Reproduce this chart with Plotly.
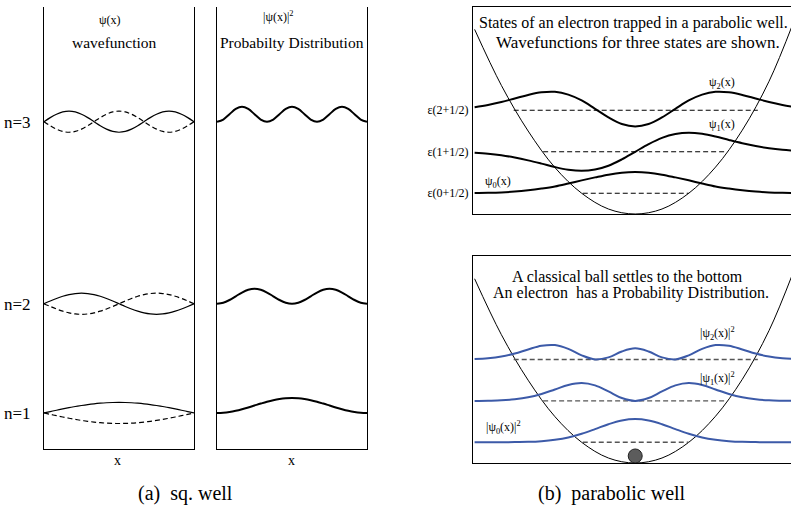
import plotly.graph_objects as go

W, H = 791, 507
FONT = "Liberation Serif, Times New Roman, serif"

# ---------------- data: square well ----------------
sq_x = [k / 24 for k in range(25)]
sq_levels = [1, 4, 9]            # energy ~ n^2
sq_labels = ["n=1", "n=2", "n=3"]
psi_sq_1 = [0, .131, .259, .383, .5, .609, .707, .793, .866, .924, .966, .991, 1,
            .991, .966, .924, .866, .793, .707, .609, .5, .383, .259, .131, 0]
psi_sq_2 = [0, .259, .5, .707, .866, .966, 1, .966, .866, .707, .5, .259, 0,
            -.259, -.5, -.707, -.866, -.966, -1, -.966, -.866, -.707, -.5, -.259, 0]
psi_sq_3 = [0, .383, .707, .924, 1, .924, .707, .383, 0,
            -.383, -.707, -.924, -1, -.924, -.707, -.383, 0,
            .383, .707, .924, 1, .924, .707, .383, 0]
prob_sq_1 = [0, .017, .067, .146, .25, .371, .5, .629, .75, .854, .933, .983, 1,
             .983, .933, .854, .75, .629, .5, .371, .25, .146, .067, .017, 0]
prob_sq_2 = [0, .067, .25, .5, .75, .933, 1, .933, .75, .5, .25, .067, 0,
             .067, .25, .5, .75, .933, 1, .933, .75, .5, .25, .067, 0]
prob_sq_3 = [0, .146, .5, .854, 1, .854, .5, .146, 0,
             .146, .5, .854, 1, .854, .5, .146, 0,
             .146, .5, .854, 1, .854, .5, .146, 0]
psi_sq_amp = 0.29
prob_sq_amp = 0.41

# ---------------- data: parabolic well ----------------
osc_x = [-3, -2.75, -2.5, -2.25, -2, -1.75, -1.5, -1.25, -1, -.75, -.5, -.25, 0,
         .25, .5, .75, 1, 1.25, 1.5, 1.75, 2, 2.25, 2.5, 2.75, 3]
osc_levels = [0.5, 1.5, 2.5]
osc_labels = ["\u03b5(0+1/2)", "\u03b5(1+1/2)", "\u03b5(2+1/2)"]
psi_0 = [.01, .02, .04, .08, .14, .22, .32, .46, .61, .75, .88, .97, 1,
         .97, .88, .75, .61, .46, .32, .22, .14, .08, .04, .02, .01]
psi_1 = [-.05, -.10, -.18, -.30, -.45, -.62, -.80, -.94, -1, -.93, -.73, -.40, 0,
         .40, .73, .93, 1, .94, .80, .62, .45, .30, .18, .10, .05]
psi_2 = [.19, .33, .51, .73, .95, 1.11, 1.14, .97, .61, .09, -.44, -.85, -1,
         -.85, -.44, .09, .61, .97, 1.14, 1.11, .95, .73, .51, .33, .19]
prob_0 = [0, 0, 0, .01, .02, .05, .11, .21, .37, .57, .78, .94, 1,
          .94, .78, .57, .37, .21, .11, .05, .02, .01, 0, 0, 0]
prob_1 = [0, .01, .03, .09, .20, .39, .64, .89, 1, .87, .53, .16, 0,
          .16, .53, .87, 1, .89, .64, .39, .20, .09, .03, .01, 0]
prob_2 = [.04, .11, .26, .53, .90, 1.23, 1.29, .95, .37, .01, .19, .72, 1,
          .72, .19, .01, .37, .95, 1.29, 1.23, .90, .53, .26, .11, .04]
psi_amp = [0.51, 0.46, 0.39]
prob_amp = [0.56, 0.43, 0.27]
turn_left = [-0.98, -1.72, -2.27]
turn_right = [1.0, 1.72, 2.29]
pot_x = [-3.0, -2.5, -2, -1.5, -1, -0.5, 0, 0.5, 1, 1.5, 2, 2.5, 2.95]
pot_v = [4.45, 3.1, 2.0, 1.12, 0.5, 0.12, 0, 0.12, 0.5, 1.13, 2.02, 3.2, 4.6]
ball_x = [0]
ball_y = [0.17]

BLUE = "#3c5aa8"

fig = go.Figure()

def add(x, y, ax, color="black", width=1.0, dash="solid", shape="spline"):
    fig.add_trace(go.Scatter(x=x, y=y, mode="lines", xaxis="x" + ax, yaxis="y" + ax,
                             line=dict(color=color, width=width, dash=dash, shape=shape),
                             hoverinfo="skip", showlegend=False))

# square well: wavefunctions (solid +psi, dashed -psi) and probabilities
for lev, psi, prob in zip(sq_levels, [psi_sq_1, psi_sq_2, psi_sq_3],
                          [prob_sq_1, prob_sq_2, prob_sq_3]):
    add(sq_x, [lev + psi_sq_amp * v for v in psi], "", width=1.2)
    add(sq_x, [lev - psi_sq_amp * v for v in psi], "", width=1.2, dash="5px,3px")
    add(sq_x, [lev + prob_sq_amp * v for v in prob], "2", width=2)

# parabolic well: potential
add(pot_x, pot_v, "3", width=1)
add(pot_x, pot_v, "4", width=1)
for i, (lev, psi, prob) in enumerate(zip(osc_levels, [psi_0, psi_1, psi_2],
                                         [prob_0, prob_1, prob_2])):
    add([turn_left[i], turn_right[i]], [lev, lev], "3", width=1.1, dash="5px,3px", shape="linear")
    add([turn_left[i], turn_right[i]], [lev, lev], "4", color="#555555", width=1.4,
        dash="5px,3px", shape="linear")
    add(osc_x, [lev + psi_amp[i] * v for v in psi], "3", width=2)
    add(osc_x, [lev + prob_amp[i] * v for v in prob], "4", color=BLUE, width=2)

fig.add_trace(go.Scatter(x=ball_x, y=ball_y, mode="markers", xaxis="x4", yaxis="y4",
                         marker=dict(size=14, color="#5c5c5c",
                                     line=dict(color="#222222", width=1)),
                         hoverinfo="skip", showlegend=False))

def px(x0, x1):
    return [x0 / W, x1 / W]

def py(y_top, y_bot):
    return [1 - y_bot / H, 1 - y_top / H]

base_x = dict(showgrid=False, zeroline=False, showticklabels=False, ticks="",
              showline=True, linecolor="black", linewidth=1, fixedrange=True)
base_y = dict(showgrid=False, zeroline=False, ticks="", showline=True,
              linecolor="black", linewidth=1, fixedrange=True)

fig.update_layout(
    width=W, height=H, margin=dict(l=0, r=0, t=0, b=0),
    paper_bgcolor="white", plot_bgcolor="white",
    font=dict(family=FONT, color="black"),
    xaxis=dict(base_x, domain=px(44, 194), range=[0, 1], anchor="y", mirror=False),
    yaxis=dict(base_y, domain=py(7, 449), range=[0.01, 12.15], anchor="x", mirror=True,
               tickvals=sq_levels, ticktext=sq_labels, ticklabelstandoff=9,
               tickfont=dict(size=17, family=FONT)),
    xaxis2=dict(base_x, domain=px(217, 367), range=[0, 1], anchor="y2", mirror=False),
    yaxis2=dict(base_y, domain=py(7, 449), range=[0.01, 12.15], anchor="x2", mirror=True,
                showticklabels=False),
    xaxis3=dict(base_x, domain=px(473, 791), range=[-3.03, 2.91], anchor="y3", mirror=True),
    yaxis3=dict(base_y, domain=py(7, 214), range=[0, 4.99], anchor="x3", mirror=False,
                tickvals=osc_levels, ticktext=osc_labels, ticklabelstandoff=1,
                tickfont=dict(size=12, family=FONT)),
    xaxis4=dict(base_x, domain=px(473, 791), range=[-3.03, 2.91], anchor="y4", mirror=True),
    yaxis4=dict(base_y, domain=py(256, 463), range=[0, 5.0], anchor="x4", mirror=False,
                showticklabels=False),
)

def note(text, x, y, size, xanchor="center"):
    fig.add_annotation(text=text, x=x / W, y=1 - y / H, xref="paper", yref="paper",
                       showarrow=False, xanchor=xanchor, yanchor="middle",
                       font=dict(size=size, family=FONT, color="black"))

note("\u03c8(x)", 110, 20, 12)
note("wavefunction", 114, 43, 15.5)
note("|\u03c8(x)|<sup>2</sup>", 278, 16, 12)
note("Probabilty Distribution", 292, 43, 15.5)
note("x", 117, 460, 14)
note("x", 291, 460, 14)
note("(a)  sq. well", 185, 493, 20)
note("(b)  parabolic well", 612, 493, 20)

note("States of an electron trapped in a parabolic well.", 477, 23, 16, xanchor="left")
note("Wavefunctions for three states are shown.", 638, 43, 17)
note("\u03c8<sub>2</sub>(x)", 722, 83, 12)
note("\u03c8<sub>1</sub>(x)", 722, 125, 12)
note("\u03c8<sub>0</sub>(x)", 498, 182, 12)

note("A classical ball settles to the bottom", 627, 276, 16)
note("An electron  has a Probability Distribution.", 631, 293, 16)
note("|\u03c8<sub>2</sub>(x)|<sup>2</sup>", 717, 333, 12)
note("|\u03c8<sub>1</sub>(x)|<sup>2</sup>", 717, 378, 12)
note("|\u03c8<sub>0</sub>(x)|<sup>2</sup>", 503, 427, 12)

fig.write_html("out.html", config={"displayModeBar": False},
               post_script="document.body.style.margin='0';document.body.style.overflow='hidden';")
